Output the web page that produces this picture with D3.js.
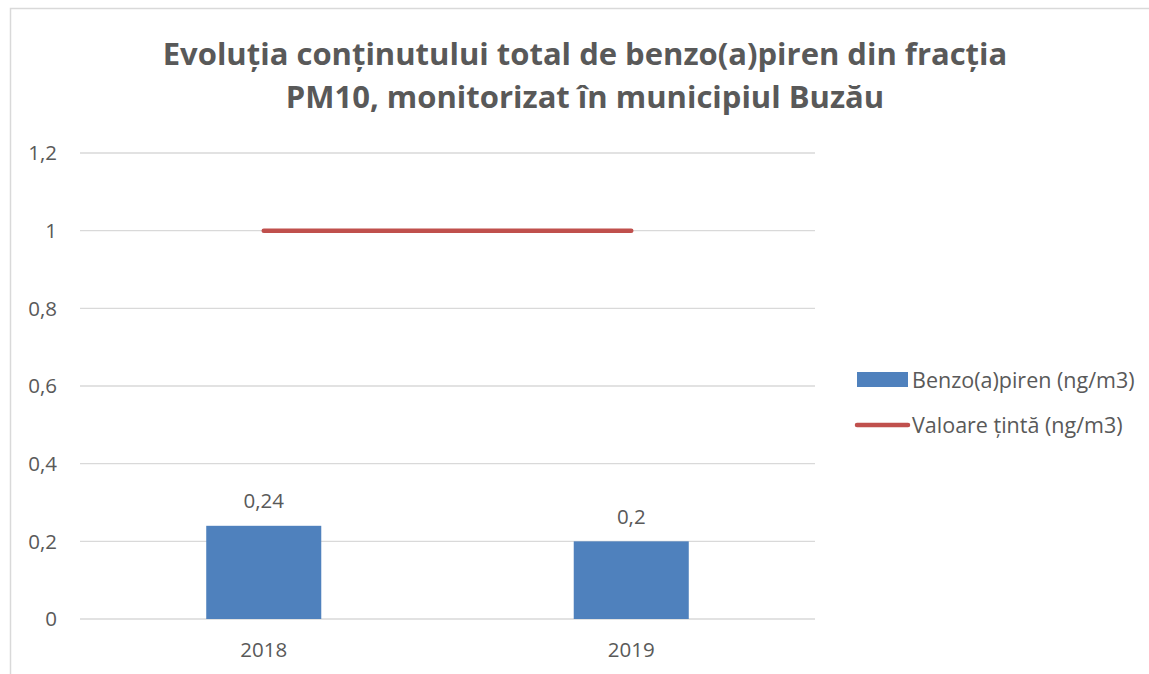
<!DOCTYPE html>
<html lang="ro">
<head>
<meta charset="UTF-8">
<title>Benzo(a)piren PM10 Buzău</title>
<script src="https://d3js.org/d3.v7.min.js"></script>
<style>
    body { margin: 0; background: #fff; }
    text { font-family: "Open Sans", "Noto Sans", sans-serif; fill: #595959; }
    .title { font-weight: bold; font-size: 31px; }
    .tick-label { font-size: 20.5px; }
    .legend-label { font-size: 21.5px; }
</style>
</head>
<body>
<script>
// chart data
const years = ["2018", "2019"];
const benzoValues = [0.24, 0.2];
const targetValues = [1, 1];
const yTicks = [0, 0.2, 0.4, 0.6, 0.8, 1, 1.2];
const titleLines = ["Evoluția conținutului total de benzo(a)piren din fracția",
                    "PM10, monitorizat în municipiul Buzău"];
const seriesNames = ["Benzo(a)piren (ng/m3)", "Valoare țintă (ng/m3)"];

const width = 1149, height = 674;
const margin = {left: 80, right: 334, top: 153, bottom: 55};

const fmt = v => String(v).replace(".", ",");

const svg = d3.select("body").append("svg")
    .attr("width", width)
    .attr("height", height);

// outer frame of the chart area
svg.append("rect")
    .attr("x", 10.5).attr("y", 8.5)
    .attr("width", width + 10).attr("height", height + 10)
    .attr("fill", "none")
    .attr("stroke", "#d9d9d9")
    .attr("stroke-width", 1.5);

const x = d3.scaleBand()
    .domain(years)
    .range([margin.left, width - margin.right])
    .paddingInner(0.687)
    .paddingOuter(0.3435);

const y = d3.scaleLinear()
    .domain([0, 1.2])
    .range([height - margin.bottom, margin.top]);

// title
svg.append("g").selectAll("text")
    .data(titleLines)
    .join("text")
    .attr("class", "title")
    .attr("x", 585)
    .attr("y", (d, i) => 65 + i * 43)
    .attr("text-anchor", "middle")
    .text(d => d);

// gridlines
svg.append("g").selectAll("line")
    .data(yTicks)
    .join("line")
    .attr("x1", margin.left)
    .attr("x2", width - margin.right)
    .attr("y1", d => y(d))
    .attr("y2", d => y(d))
    .attr("stroke", "#d9d9d9")
    .attr("stroke-width", 1.3);

// y tick labels
svg.append("g").selectAll("text")
    .data(yTicks)
    .join("text")
    .attr("class", "tick-label")
    .attr("x", 57)
    .attr("y", d => y(d))
    .attr("dy", "0.35em")
    .attr("text-anchor", "end")
    .text(d => fmt(d));

// bars
svg.append("g").selectAll("rect")
    .data(benzoValues)
    .join("rect")
    .attr("x", (d, i) => x(years[i]))
    .attr("y", d => y(d))
    .attr("width", x.bandwidth())
    .attr("height", d => y(0) - y(d))
    .attr("fill", "#4f81bd");

// bar value labels
svg.append("g").selectAll("text")
    .data(benzoValues)
    .join("text")
    .attr("class", "tick-label")
    .attr("x", (d, i) => x(years[i]) + x.bandwidth() / 2)
    .attr("y", d => y(d) - 25)
    .attr("dy", "0.35em")
    .attr("text-anchor", "middle")
    .text(d => fmt(d));

// x labels
svg.append("g").selectAll("text")
    .data(years)
    .join("text")
    .attr("class", "tick-label")
    .attr("x", d => x(d) + x.bandwidth() / 2)
    .attr("y", y(0) + 31)
    .attr("dy", "0.35em")
    .attr("text-anchor", "middle")
    .text(d => d);

// target line
const line = d3.line()
    .x((d, i) => x(years[i]) + x.bandwidth() / 2)
    .y(d => y(d));

svg.append("path")
    .datum(targetValues)
    .attr("d", line)
    .attr("fill", "none")
    .attr("stroke", "#c0504d")
    .attr("stroke-width", 4.5)
    .attr("stroke-linecap", "round");

// legend
const legend = svg.append("g");
legend.append("rect")
    .attr("x", 857).attr("y", 372)
    .attr("width", 51).attr("height", 15)
    .attr("fill", "#4f81bd");
legend.append("line")
    .attr("x1", 857).attr("x2", 908)
    .attr("y1", 425).attr("y2", 425)
    .attr("stroke", "#c0504d")
    .attr("stroke-width", 4.5)
    .attr("stroke-linecap", "round");
legend.selectAll("text")
    .data(seriesNames)
    .join("text")
    .attr("class", "legend-label")
    .attr("x", 912)
    .attr("y", (d, i) => 380 + i * 45)
    .attr("dy", "0.35em")
    .text(d => d);
</script>
</body>
</html>
